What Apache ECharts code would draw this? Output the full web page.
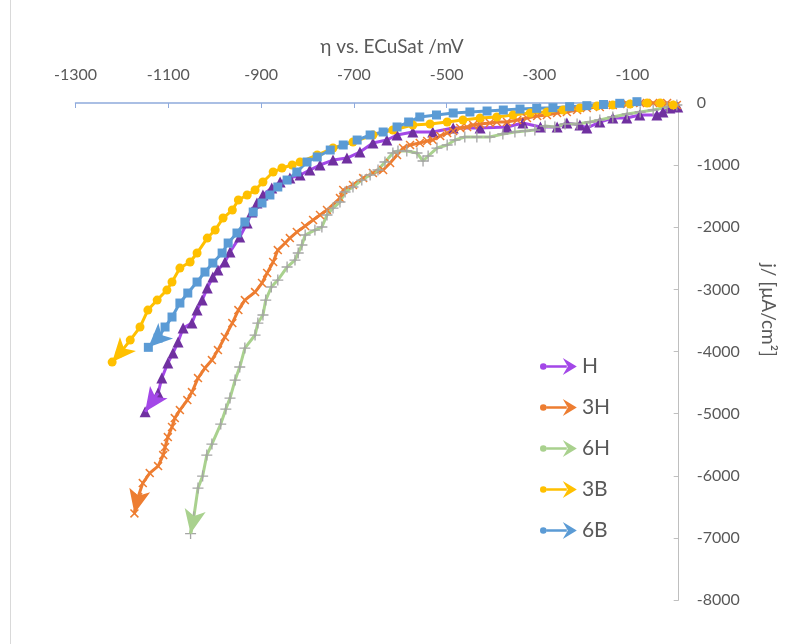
<!DOCTYPE html>
<html>
<head>
<meta charset="utf-8">
<title>Cathodic polarization curves</title>
<script src="https://cdn.jsdelivr.net/npm/echarts@6/dist/echarts.min.js"></script>
<style>
  html, body { margin: 0; padding: 0; background: #ffffff; }
  #chart { width: 789px; height: 644px; }
</style>
</head>
<body>
<div id="chart"></div>
<script>
// Overpotential (mV vs. ECuSat) and current density (µA/cm²) for each sample
const H_eta = [-2,-19,-34,-47,-84,-112,-142,-170,-198,-213,-241,-262,-298,-336,-370,-428,-486,-530,-573,-607,-629,-659,-687,-715,-745,-773,-795,-816,-838,-859,-877,-896,-909,-920,-930,-946,-967,-978,-993,-1004,-1016,-1027,-1038,-1049,-1068,-1079,-1090,-1101,-1114,-1122,-1150];
const H_j   = [-64,-81,-145,-193,-193,-242,-242,-306,-403,-354,-322,-386,-386,-322,-386,-403,-403,-467,-467,-515,-596,-644,-789,-886,-918,-998,-1079,-1159,-1208,-1272,-1369,-1481,-1610,-1755,-1932,-2157,-2399,-2560,-2689,-2801,-2979,-3172,-3333,-3542,-3623,-3848,-4025,-4186,-4428,-4669,-4970];

const H3_eta = [-4,-25,-55,-83,-111,-142,-170,-198,-219,-241,-262,-284,-305,-327,-348,-370,-392,-407,-428,-443,-456,-471,-486,-499,-514,-530,-542,-558,-579,-594,-607,-622,-637,-659,-680,-702,-723,-730,-758,-773,-788,-805,-823,-838,-848,-864,-874,-887,-898,-913,-935,-949,-962,-978,-993,-1006,-1021,-1036,-1049,-1059,-1075,-1086,-1092,-1101,-1107,-1111,-1122,-1140,-1155,-1165,-1173];
const H3_j   = [-32,0,0,0,-16,-32,-64,-81,-113,-145,-161,-193,-209,-242,-274,-306,-306,-322,-338,-354,-386,-403,-451,-483,-531,-596,-612,-644,-676,-725,-837,-966,-1079,-1127,-1208,-1320,-1401,-1530,-1723,-1803,-1884,-1980,-2077,-2174,-2254,-2367,-2560,-2737,-2898,-3043,-3172,-3333,-3542,-3767,-3977,-4138,-4267,-4428,-4653,-4782,-4943,-5072,-5216,-5377,-5538,-5667,-5844,-5957,-6118,-6343,-6606];

const H6_eta = [-4,-25,-55,-83,-111,-142,-170,-191,-219,-245,-267,-288,-310,-331,-353,-379,-407,-435,-461,-482,-499,-521,-540,-551,-564,-586,-605,-616,-633,-648,-665,-683,-702,-719,-730,-745,-758,-769,-784,-805,-812,-820,-827,-844,-864,-878,-890,-896,-907,-913,-935,-946,-956,-967,-976,-987,-1006,-1017,-1026,-1036,-1045,-1052];
const H6_j   = [-32,-64,-113,-145,-177,-225,-274,-306,-338,-338,-386,-370,-435,-451,-467,-499,-547,-547,-547,-596,-676,-725,-853,-934,-805,-773,-773,-805,-950,-1079,-1159,-1240,-1352,-1433,-1594,-1691,-1803,-1996,-2045,-2125,-2286,-2415,-2528,-2640,-2850,-2962,-3172,-3413,-3542,-3735,-3945,-4250,-4460,-4750,-4927,-5168,-5490,-5667,-6005,-6199,-6665,-6931];

const B3_eta = [-12,-40,-68,-105,-142,-176,-213,-249,-284,-320,-357,-392,-428,-465,-499,-536,-573,-616,-659,-702,-745,-779,-816,-833,-855,-874,-896,-913,-930,-949,-962,-982,-999,-1016,-1038,-1053,-1075,-1092,-1103,-1124,-1144,-1161,-1182,-1204,-1221];
const B3_j   = [-32,0,0,-16,-32,-48,-81,-113,-145,-161,-193,-225,-242,-274,-306,-338,-354,-435,-515,-628,-725,-837,-950,-998,-1047,-1111,-1272,-1401,-1481,-1562,-1723,-1852,-2045,-2174,-2415,-2560,-2657,-2882,-3011,-3172,-3333,-3606,-3816,-4025,-4170];

const B6_eta = [-90,-127,-162,-198,-235,-271,-306,-342,-378,-413,-450,-486,-522,-558,-582,-607,-637,-665,-693,-723,-751,-779,-801,-823,-844,-864,-881,-898,-917,-935,-952,-971,-984,-1004,-1021,-1038,-1058,-1075,-1092,-1107,-1122,-1143];
const B6_j   = [21,-5,-24,-43,-60,-76,-86,-97,-113,-129,-145,-161,-193,-225,-306,-386,-467,-515,-596,-676,-757,-869,-950,-1111,-1240,-1352,-1481,-1610,-1755,-1916,-2093,-2254,-2415,-2576,-2721,-2882,-3059,-3220,-3445,-3606,-3784,-3933];

const seriesNames = ['H', '3H', '6H', '3B', '6B'];

// Axis ranges
const etaMin = -1300, etaMax = 0, etaStep = 200;
const jMin = -8000, jMax = 0, jStep = 1000;

const FONT = 'Lato, "Open Sans", sans-serif';
const TEXT = '#595959';

const pairs = (xs, ys) => xs.map((x, i) => [x, ys[i]]);

// Arrow head on the last segment of a curve
function arrowEnd(xs, ys, color) {
  const n = xs.length;
  return {
    silent: true,
    animation: false,
    symbol: ['none', 'arrow'],
    symbolSize: [16, 24],
    symbolOffset: [0, 0],
    label: { show: false },
    emphasis: { disabled: true },
    lineStyle: { color: color, width: 3, type: 'solid', opacity: 1 },
    data: [[{ coord: [xs[n - 2], ys[n - 2]] }, { coord: [xs[n - 1], ys[n - 1]] }]]
  };
}

const crossPath = 'path://M0,1.2L1.2,0L10,8.8L8.8,10Z M8.8,0L10,1.2L1.2,10L0,8.8Z';
const plusPath = 'path://M4.4,0H5.6V10H4.4Z M0,4.4H10V5.6H0Z';
const legendIcon = 'path://M0.2,8.5A3.3,3.3,0,1,1,6.8,8.5A3.3,3.3,0,1,1,0.2,8.5Z M6.8,7.3H27V9.7H6.8Z M23,0L37,8.5L23,17L28,8.5Z';

const styles = [
  { xs: H_eta,  ys: H_j,  line: '#A347E8', mark: '#7030A0', symbol: 'triangle', size: 11 },
  { xs: H3_eta, ys: H3_j, line: '#ED7D31', mark: '#ED7D31', symbol: crossPath,  size: 9 },
  { xs: H6_eta, ys: H6_j, line: '#A9D18E', mark: '#A5A5A5', symbol: plusPath,   size: 11 },
  { xs: B3_eta, ys: B3_j, line: '#FFC000', mark: '#FFC000', symbol: 'circle',   size: 9 },
  { xs: B6_eta, ys: B6_j, line: '#5B9BD5', mark: '#5B9BD5', symbol: 'rect',     size: 9 }
];

const chart = echarts.init(document.getElementById('chart'), null, { renderer: 'canvas' });

chart.setOption({
  animation: false,
  backgroundColor: '#ffffff',
  textStyle: { fontFamily: FONT },
  grid: { left: 75.5, right: 110.3, top: 103, bottom: 44, containLabel: false },
  xAxis: {
    type: 'value',
    position: 'top',
    min: etaMin, max: etaMax, interval: etaStep,
    axisLine: { show: true, onZero: false, lineStyle: { color: '#8FAADC', width: 1.5 } },
    axisTick: { show: true, inside: true, length: 5, lineStyle: { color: '#8FAADC', width: 1 } },
    axisLabel: {
      color: TEXT, fontSize: 16, fontFamily: FONT, margin: 20,
      formatter: v => (v === 0 ? '' : String(v))
    },
    splitLine: { show: false }
  },
  yAxis: {
    type: 'value',
    position: 'right',
    min: jMin, max: jMax, interval: jStep,
    axisLine: { show: true, onZero: false, lineStyle: { color: '#BFBFBF', width: 1 } },
    axisTick: { show: true, inside: true, length: 5, lineStyle: { color: '#BFBFBF', width: 1 } },
    axisLabel: { color: TEXT, fontSize: 16, fontFamily: FONT, margin: 18, formatter: v => String(v) },
    splitLine: { show: false }
  },
  legend: {
    orient: 'vertical',
    left: 535,
    top: 351,
    itemWidth: 37,
    itemHeight: 17,
    itemGap: 20,
    icon: legendIcon,
    selectedMode: false,
    itemStyle: { borderWidth: 0 },
    textStyle: { color: TEXT, fontSize: 21, lineHeight: 21, fontFamily: FONT },
    data: seriesNames.map((name, i) => ({ name: name, itemStyle: { color: styles[i].line, borderWidth: 0 } }))
  },
  graphic: [
    {
      type: 'rect', silent: true, z: -10,
      shape: { x: 10.5, y: -5, width: 800, height: 660 },
      style: { fill: 'none', stroke: '#D9D9D9', lineWidth: 1 }
    },
    {
      type: 'text', silent: true,
      x: 392, y: 47,
      style: { text: 'η vs. ECuSat /mV', font: '19px ' + FONT, fill: TEXT, textAlign: 'center', textVerticalAlign: 'middle' }
    },
    {
      type: 'text', silent: true,
      x: 768, y: 310, rotation: -Math.PI / 2,
      style: { text: 'j/ [µA/cm²]', font: '19px ' + FONT, fill: TEXT, textAlign: 'center', textVerticalAlign: 'middle' }
    }
  ],
  series: styles.map((s, i) => ({
    name: seriesNames[i],
    type: 'line',
    data: pairs(s.xs, s.ys),
    clip: false,
    smooth: false,
    showAllSymbol: true,
    symbol: s.symbol,
    symbolSize: s.size,
    symbolKeepAspect: true,
    lineStyle: { color: s.line, width: 3 },
    itemStyle: { color: s.mark },
    emphasis: { disabled: true },
    markLine: arrowEnd(s.xs, s.ys, s.line)
  }))
});
</script>
</body>
</html>
